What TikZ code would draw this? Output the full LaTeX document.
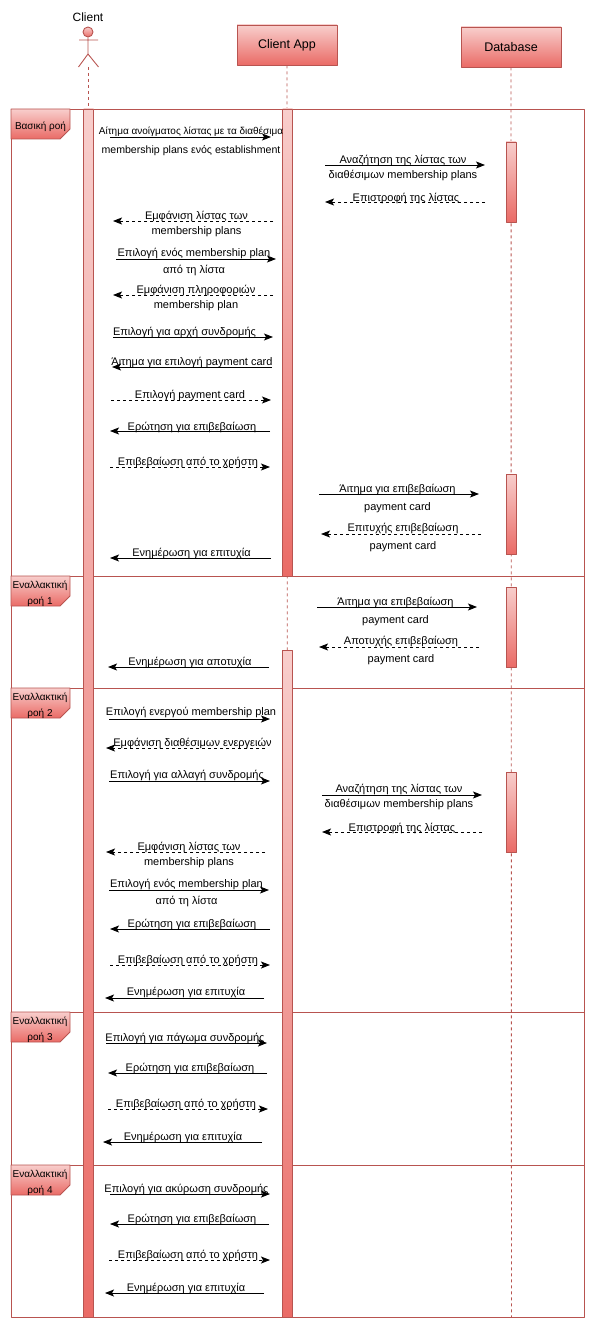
\documentclass[tikz,border=0pt]{standalone}
\usepackage{fontspec}
\setmainfont{Liberation Sans}
\usetikzlibrary{arrows.meta}
\definecolor{redline}{HTML}{B85450}
\definecolor{redtop}{HTML}{F8CECC}
\definecolor{redbot}{HTML}{EA6B66}
\tikzset{
	headbox/.style={draw=redline,top color=redtop,bottom color=redbot,minimum width=100pt,minimum height=40pt,inner sep=0pt,font=\fontsize{12.5}{14}\selectfont},
	actbar/.style={draw=redline,top color=redtop,bottom color=redbot},
	tagbox/.style={draw=redline,top color=redtop,bottom color=redbot},
	tagtxt/.style={inner sep=0pt,align=center,font=\fontsize{10}{15.5}\selectfont},
	life/.style={redline,dash pattern=on 3pt off 3pt},
	msg/.style={->,black},
	rmsg/.style={->,black,dash pattern=on 3pt off 3pt},
	lbl/.style={inner sep=0pt,align=center,yshift=-1.5pt,font=\fontsize{11}{13}\selectfont},
}
\begin{document}
\begin{tikzpicture}[x=1pt,y=-1pt,>={Stealth[length=9pt,width=7pt,inset=2pt]},line join=round,line width=.9pt]
	\useasboundingbox (0,0) rectangle (595,1329);
	\draw[redline] (11,109) rectangle (584,1317);
	\draw[redline] (11,576)--(584,576) (11,688)--(584,688) (11,1012)--(584,1012) (11,1165)--(584,1165);

	\node[inner sep=0pt,font=\fontsize{12}{14}\selectfont] (client) at (88,17.5) {Client};
	\node[draw=redline,circle,top color=redtop,bottom color=redbot,minimum size=10pt,inner sep=0pt] (head) at (88,32) {};
	\coordinate (hip) at (88,54);
	\coordinate (armL) at (79,40); \coordinate (armR) at (98,40);
	\coordinate (footL) at (78.5,67); \coordinate (footR) at (98.5,67);
	\draw[redline] (head)--(hip) (armL)--(armR) (footL)--(hip)--(footR);
	\node[headbox] (app) at (287,45) {Client App};
	\node[headbox] (db) at (511,47) {Database};

	\coordinate (clientTop) at (88,67);
	\coordinate (clientEnd) at (88,1317);
	\coordinate (appEnd) at (287.5,1317);
	\coordinate (dbEnd) at (511.5,1317);
	\draw[life] (clientTop)--(clientEnd);
	\draw[life] (app.south)--(appEnd);
	\draw[life] (db.south)--(dbEnd);

	\draw[actbar] (83.5,109) rectangle (93.5,1317);
	\draw[actbar] (282.5,109) rectangle (292.5,576);
	\draw[actbar] (282.5,650) rectangle (292.5,1317);
	\draw[actbar] (506,142) rectangle (516,222);
	\draw[actbar] (506,474) rectangle (516,554);
	\draw[actbar] (506,587) rectangle (516,667);
	\draw[actbar] (506,772) rectangle (516,852);

	\draw[tagbox] (11,109)--(70,109)--(70,129)--(60,139)--(11,139)--cycle;
	\node[tagtxt] (tag0) at (40.5,126.5) {Βασική ροή};
	\draw[tagbox] (11,576)--(70,576)--(70,596)--(60,606)--(11,606)--cycle;
	\node[tagtxt] (tag1) at (40,594) {Εναλλακτική\\ροή 1};
	\draw[tagbox] (11,688)--(70,688)--(70,708)--(60,718)--(11,718)--cycle;
	\node[tagtxt] (tag2) at (40,706) {Εναλλακτική\\ροή 2};
	\draw[tagbox] (11,1012)--(70,1012)--(70,1032)--(60,1042)--(11,1042)--cycle;
	\node[tagtxt] (tag3) at (40,1030) {Εναλλακτική\\ροή 3};
	\draw[tagbox] (11,1165)--(70,1165)--(70,1185)--(60,1195)--(11,1195)--cycle;
	\node[tagtxt] (tag4) at (40,1183) {Εναλλακτική\\ροή 4};

	\coordinate (m1a) at (110,137); \coordinate (m1b) at (271,137);
	\draw[msg] (m1a)--(m1b);
	\node[lbl,font=\fontsize{10}{13}\selectfont] (m1t) at (191,139.5) {Αίτημα ανοίγματος λίστας με τα διαθέσιμα\\[6pt]\fontsize{10.6}{13}\selectfont membership plans ενός establishment};
	\coordinate (m2a) at (325,165); \coordinate (m2b) at (485,165);
	\draw[msg] (m2a)--(m2b);
	\node[lbl] (m2t) at (403,166.5) {Αναζήτηση της λίστας των\\[2pt]διαθέσιμων membership plans};
	\coordinate (m3a) at (485,202); \coordinate (m3b) at (325,202);
	\draw[rmsg] (m3a)--(m3b);
	\node[lbl] (m3t) at (406,197) {Επιστροφή της λίστας};
	\coordinate (m4a) at (273,221); \coordinate (m4b) at (113,221);
	\draw[rmsg] (m4a)--(m4b);
	\node[lbl] (m4t) at (196.5,222.5) {Εμφάνιση λίστας των\\[2pt]membership plans};
	\coordinate (m5a) at (116,259); \coordinate (m5b) at (276,259);
	\draw[msg] (m5a)--(m5b);
	\node[lbl] (m5t) at (194,260.5) {Επιλογή ενός membership plan\\[4pt]από τη λίστα};
	\coordinate (m6a) at (273,295); \coordinate (m6b) at (113,295);
	\draw[rmsg] (m6a)--(m6b);
	\node[lbl] (m6t) at (196,296.5) {Εμφάνιση πληροφοριών\\[2pt]membership plan};
	\coordinate (m7a) at (113,337); \coordinate (m7b) at (273,337);
	\draw[msg] (m7a)--(m7b);
	\node[lbl] (m7t) at (184.5,331) {Επιλογή για αρχή συνδρομής};
	\coordinate (m8a) at (272,367); \coordinate (m8b) at (112,367);
	\draw[msg] (m8a)--(m8b);
	\node[lbl] (m8t) at (192,360.5) {Άιτημα για επιλογή payment card};
	\coordinate (m9a) at (111,400); \coordinate (m9b) at (271,400);
	\draw[rmsg] (m9a)--(m9b);
	\node[lbl] (m9t) at (190,394) {Επιλογή payment card};
	\coordinate (m10a) at (270,431); \coordinate (m10b) at (110,431);
	\draw[msg] (m10a)--(m10b);
	\node[lbl] (m10t) at (192,425.5) {Ερώτηση για επιβεβαίωση};
	\coordinate (m11a) at (110,467); \coordinate (m11b) at (270,467);
	\draw[rmsg] (m11a)--(m11b);
	\node[lbl] (m11t) at (188,461) {Επιβεβαίωση από το χρήστη};
	\coordinate (m12a) at (319,494); \coordinate (m12b) at (479,494);
	\draw[msg] (m12a)--(m12b);
	\node[lbl] (m12t) at (397.5,497) {Άιτημα για επιβεβαίωση\\[4.5pt]payment card};
	\coordinate (m13a) at (481,534); \coordinate (m13b) at (321,534);
	\draw[rmsg] (m13a)--(m13b);
	\node[lbl] (m13t) at (403,536) {Επιτυχής επιβεβαίωση\\[5pt]payment card};
	\coordinate (m14a) at (271,558); \coordinate (m14b) at (110,558);
	\draw[msg] (m14a)--(m14b);
	\node[lbl] (m14t) at (191.5,552) {Ενημέρωση για επιτυχία};

	\coordinate (m15a) at (317,607); \coordinate (m15b) at (477,607);
	\draw[msg] (m15a)--(m15b);
	\node[lbl] (m15t) at (395.5,610) {Άιτημα για επιβεβαίωση\\[4.5pt]payment card};
	\coordinate (m16a) at (479,647); \coordinate (m16b) at (319,647);
	\draw[rmsg] (m16a)--(m16b);
	\node[lbl] (m16t) at (401,649) {Αποτυχής επιβεβαίωση\\[5pt]payment card};
	\coordinate (m17a) at (269,667); \coordinate (m17b) at (108,667);
	\draw[msg] (m17a)--(m17b);
	\node[lbl] (m17t) at (190,660.5) {Ενημέρωση για αποτυχία};

	\coordinate (m18a) at (109,719); \coordinate (m18b) at (270,719);
	\draw[msg] (m18a)--(m18b);
	\node[lbl] (m18t) at (191,710.5) {Επιλογή ενεργού membership plan};
	\coordinate (m19a) at (265,748); \coordinate (m19b) at (106,748);
	\draw[rmsg] (m19a)--(m19b);
	\node[lbl] (m19t) at (192.5,741.5) {Εμφάνιση διαθέσιμων ενεργειών};
	\coordinate (m20a) at (109,781); \coordinate (m20b) at (270,781);
	\draw[msg] (m20a)--(m20b);
	\node[lbl] (m20t) at (187,774) {Επιλογή για αλλαγή συνδρομής};
	\coordinate (m21a) at (322,795); \coordinate (m21b) at (482,795);
	\draw[msg] (m21a)--(m21b);
	\node[lbl] (m21t) at (399,795.5) {Αναζήτηση της λίστας των\\[2pt]διαθέσιμων membership plans};
	\coordinate (m22a) at (482,832); \coordinate (m22b) at (322,832);
	\draw[rmsg] (m22a)--(m22b);
	\node[lbl] (m22t) at (402,827) {Επιστροφή της λίστας};
	\coordinate (m23a) at (265,852); \coordinate (m23b) at (106,852);
	\draw[rmsg] (m23a)--(m23b);
	\node[lbl] (m23t) at (189,853.5) {Εμφάνιση λίστας των\\[2pt]membership plans};
	\coordinate (m24a) at (109,890); \coordinate (m24b) at (269,890);
	\draw[msg] (m24a)--(m24b);
	\node[lbl] (m24t) at (186.5,891.5) {Επιλογή ενός membership plan\\[4pt]από τη λίστα};
	\coordinate (m25a) at (270,929); \coordinate (m25b) at (110,929);
	\draw[msg] (m25a)--(m25b);
	\node[lbl] (m25t) at (192,923) {Ερώτηση για επιβεβαίωση};
	\coordinate (m26a) at (110,965); \coordinate (m26b) at (270,965);
	\draw[rmsg] (m26a)--(m26b);
	\node[lbl] (m26t) at (188,958.5) {Επιβεβαίωση από το χρήστη};
	\coordinate (m27a) at (264,998); \coordinate (m27b) at (105,998);
	\draw[msg] (m27a)--(m27b);
	\node[lbl] (m27t) at (186,990.5) {Ενημέρωση για επιτυχία};

	\coordinate (m28a) at (106,1043); \coordinate (m28b) at (267,1043);
	\draw[msg] (m28a)--(m28b);
	\node[lbl] (m28t) at (185,1037) {Επιλογή για πάγωμα συνδρομής};
	\coordinate (m29a) at (267,1073); \coordinate (m29b) at (108,1073);
	\draw[msg] (m29a)--(m29b);
	\node[lbl] (m29t) at (190,1067) {Ερώτηση για επιβεβαίωση};
	\coordinate (m30a) at (108,1109); \coordinate (m30b) at (268,1109);
	\draw[rmsg] (m30a)--(m30b);
	\node[lbl] (m30t) at (186,1102.5) {Επιβεβαίωση από το χρήστη};
	\coordinate (m31a) at (262,1142); \coordinate (m31b) at (103,1142);
	\draw[msg] (m31a)--(m31b);
	\node[lbl] (m31t) at (183,1135.5) {Ενημέρωση για επιτυχία};

	\coordinate (m32a) at (110,1194); \coordinate (m32b) at (270,1194);
	\draw[msg] (m32a)--(m32b);
	\node[lbl] (m32t) at (186.5,1187.5) {Επιλογή για ακύρωση συνδρομής};
	\coordinate (m33a) at (269,1224); \coordinate (m33b) at (110,1224);
	\draw[msg] (m33a)--(m33b);
	\node[lbl] (m33t) at (192,1218) {Ερώτηση για επιβεβαίωση};
	\coordinate (m34a) at (109,1260); \coordinate (m34b) at (270,1260);
	\draw[rmsg] (m34a)--(m34b);
	\node[lbl] (m34t) at (188,1253.5) {Επιβεβαίωση από το χρήστη};
	\coordinate (m35a) at (264,1293); \coordinate (m35b) at (105,1293);
	\draw[msg] (m35a)--(m35b);
	\node[lbl] (m35t) at (186,1286.5) {Ενημέρωση για επιτυχία};
\end{tikzpicture}
\end{document}
